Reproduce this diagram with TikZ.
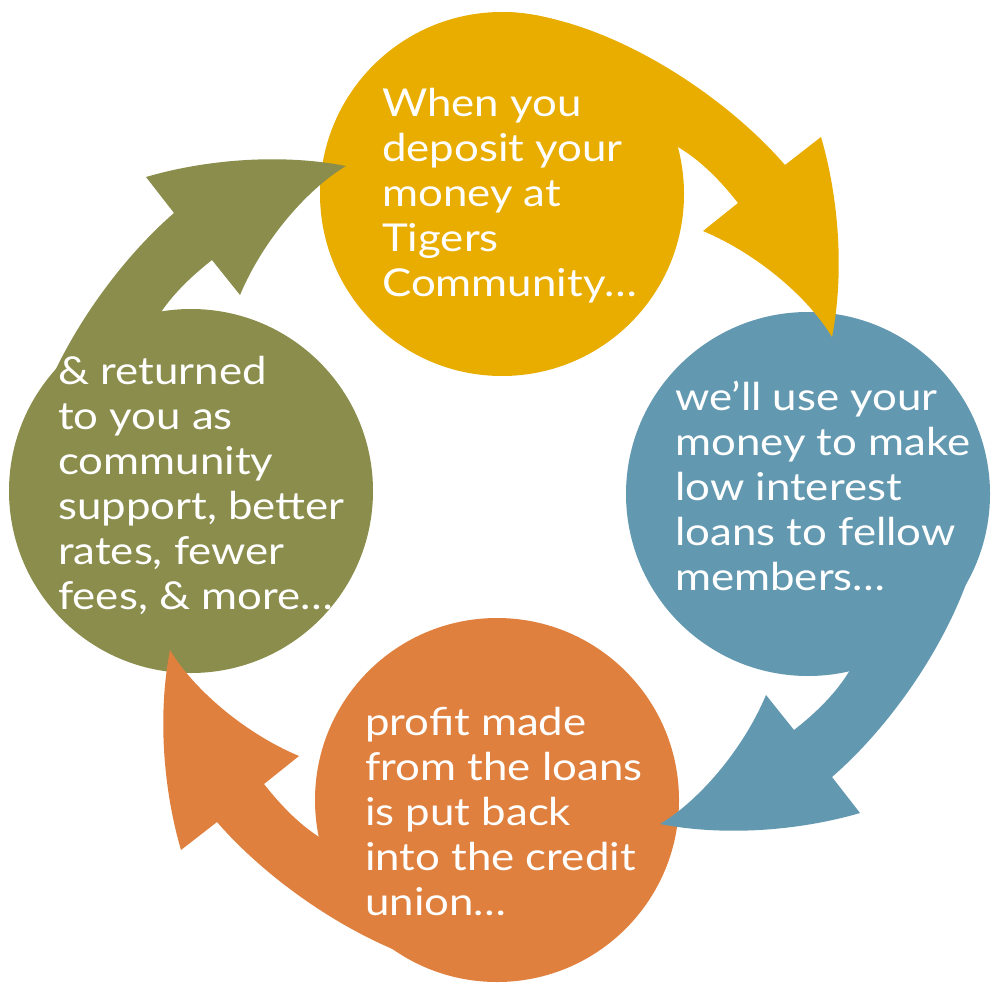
\documentclass[tikz,border=0pt]{standalone}
\usepackage{fontspec}
\setmainfont{Lato}[FakeStretch=1.14]
\definecolor{ycol}{RGB}{233,173,0}
\definecolor{bcol}{RGB}{99,153,176}
\definecolor{ocol}{RGB}{224,128,62}
\definecolor{gcol}{RGB}{138,141,75}
\newcommand\tailpath{(0,-182) .. controls (98,-180) and (218,-104) .. (283,-29)
  -- (319,-57) .. controls (336,1) and (343,76) .. (330,143)
  .. controls (308,106) and (258,61) .. (201,37)
  -- (236,9) .. controls (218,-14) and (198,-34) .. (176,-47) -- cycle}
\tikzset{
  bubble/.style={circle, minimum size=364pt, inner sep=0pt, draw=none},
  blurb/.style={anchor=base west, inner sep=0pt, text=white,
    font=\fontsize{38.4pt}{45pt}\selectfont},
}
\begin{document}
\begin{tikzpicture}[x=1pt,y=-1pt]
\useasboundingbox (0,0) rectangle (1000,1000);
% bodies
\node[bubble, fill=ycol] (yellow) at (502,194) {};
\node[bubble, fill=bcol] (blue) at (808,494) {};
\node[bubble, fill=ocol] (orange) at (497,800) {};
\node[bubble, fill=gcol] (green) at (191,491) {};
% tails with arrowheads
\begin{scope}[shift={(502,194)}]
  \fill[ycol] \tailpath;
\end{scope}
\begin{scope}[shift={(803,494)}, rotate=-90]
  \fill[bcol] \tailpath;
\end{scope}
\begin{scope}[shift={(500,793)}, rotate=180]
  \fill[ocol] \tailpath;
\end{scope}
\begin{scope}[shift={(203,496)}, rotate=90]
  \fill[gcol] \tailpath;
\end{scope}
% texts
\node[blurb] (ytext) at (382,117) {\begin{tabular}[t]{@{}l@{}}When you\\deposit your\\money at\\Tigers\\Community…\end{tabular}};
\node[blurb] (btext) at (675,410) {\begin{tabular}[t]{@{}l@{}}we’ll use your\\money to make\\low interest\\loans to fellow\\members…\end{tabular}};
\node[blurb] (otext) at (365,735) {\begin{tabular}[t]{@{}l@{}}profit made\\from the loans\\is put back\\into the credit\\union…\end{tabular}};
\node[blurb] (gtext) at (58,384) {\begin{tabular}[t]{@{}l@{}}\& returned\\to you as\\community\\support, better\\rates, fewer\\fees, \& more…\end{tabular}};
\end{tikzpicture}
\end{document}
